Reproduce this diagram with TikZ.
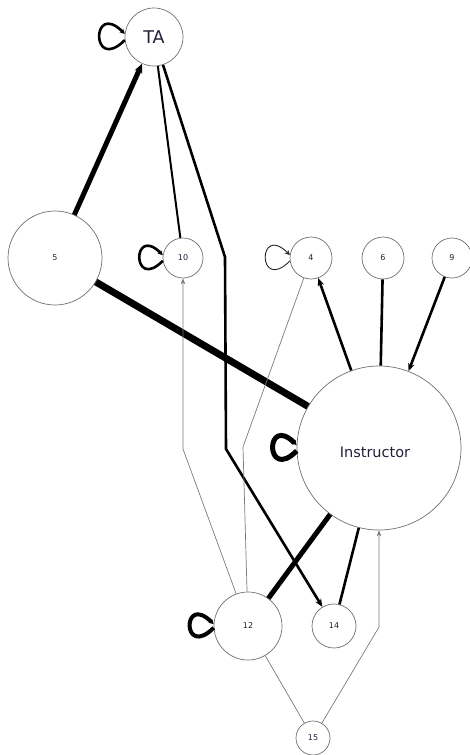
\documentclass[tikz,border=0pt]{standalone}
\usepackage{fontspec}
\setmainfont{DejaVu Sans}
\usetikzlibrary{arrows.meta}
\definecolor{ntext}{HTML}{20203A}
\definecolor{ring}{HTML}{707070}
\definecolor{thin}{HTML}{7A7A7A}
\begin{document}
\begin{tikzpicture}[x=1pt,y=-1pt,
  vtx/.style={circle,draw=ring,line width=0.7pt,fill=white,inner sep=0pt,text=ntext,font=\fontsize{8}{9}\selectfont},
  wA/.style={draw=thin,line width=0.7pt},
  wB/.style={draw=black,line width=2pt},
  wC/.style={draw=black,line width=2.6pt},
  wD/.style={draw=black,line width=4pt},
  wE/.style={draw=black,line width=5pt},
  wF/.style={draw=black,line width=7pt},
  arrA/.style={-{Stealth[length=6pt,width=4.5pt]}},
  arrC/.style={-{Stealth[length=8pt,width=6.5pt]}},
  arrE/.style={-{Stealth[length=9pt,width=8pt]}},
  arrL/.style={-{Stealth[length=5pt,width=5pt]}},
  selfloop/.style={out=225,in=135,looseness=1,min distance=#1},
]
\useasboundingbox (0,0) rectangle (469,755);

% nodes
\node[vtx,minimum size=58pt,font=\fontsize{17.5}{19}\selectfont] (TA) at (154,37) {TA};
\node[vtx,minimum size=94pt] (n5) at (55,258) {5};
\node[vtx,minimum size=40pt] (n10) at (183,258) {10};
\node[vtx,minimum size=42pt] (n4) at (311,258) {4};
\node[vtx,minimum size=42pt] (n6) at (383,258) {6};
\node[vtx,minimum size=40pt] (n9) at (452,258) {9};
\node[vtx,minimum size=164pt,font=\fontsize{14.5}{16}\selectfont] (I) at (379,448) {\raisebox{-9.5pt}[0pt][0pt]{\hspace*{-8pt}Instructor}};
\node[vtx,minimum size=68pt] (n12) at (248,626) {12};
\node[vtx,minimum size=44pt] (n14) at (334,626) {14};
\node[vtx,minimum size=34pt] (n15) at (313,738) {15};

% bend points
\coordinate (b1) at (225,257);
\coordinate (b2) at (226,449);
\coordinate (b3) at (183,449);
\coordinate (b4) at (243,447);
\coordinate (b5) at (379,627);

% edges
\draw[wE,arrE] (n5) -- (TA);
\draw[wF] (n5) -- (I);
\draw[wB] (TA) -- (n10);
\draw[wC,arrC] (TA) -- (b1) -- (b2) -- (n14);
\draw[wC,arrC] (I) -- (n4);
\draw[wC] (n6) -- (I);
\draw[wC,arrC] (n9) -- (I);
\draw[wA,arrA] (n12) -- (b3) -- (n10);
\draw[wA] (n12) -- (b4) -- (n4);
\draw[wE] (I) -- (n12);
\draw[wC] (n14) -- (I);
\draw[wA] (n12) -- (n15);
\draw[wA,arrA] (n15) -- (b5) -- (I);

% self loops
\draw[wC,arrL] (TA.186) to[selfloop=48pt] (TA.174);
\draw[wC,arrL] (n10.188) to[selfloop=44pt] (n10.172);
\draw[draw=black!85,line width=0.9pt,arrL] (n4.188) to[selfloop=46pt] (n4.172);
\draw[wE,arrL] (I.182) to[selfloop=45pt] (I.178);
\draw[wD,arrL] (n12.183) to[selfloop=45pt] (n12.177);
\end{tikzpicture}
\end{document}
